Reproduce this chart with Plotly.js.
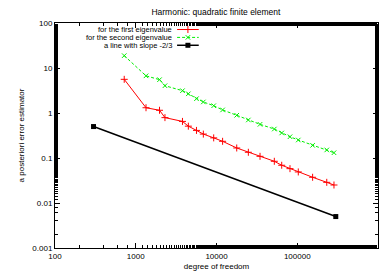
<!DOCTYPE html>
<html><head><meta charset="utf-8">
<script src="https://cdn.plot.ly/plotly-3.0.1.min.js"></script>
<style>html,body{margin:0;padding:0;background:#fff;}#chart{width:389px;height:273px;}</style>
</head><body><div id="chart"></div>
<script>
// ---- data ----
const dofFirst = [720, 1340, 1970, 2300, 3790, 4480, 5650, 6870, 9230, 11900, 17800, 24800, 34600, 52000, 64200, 81300, 103000, 155000, 232000, 285000];
const errFirst = [5.6, 1.31, 1.15, 0.79, 0.65, 0.51, 0.41, 0.34, 0.28, 0.235, 0.167, 0.134, 0.109, 0.0845, 0.069, 0.058, 0.049, 0.0373, 0.0288, 0.0251];
const dofSecond = [720, 1340, 1970, 2300, 3790, 4480, 5650, 6870, 9230, 11900, 17800, 24800, 34600, 52000, 64200, 81300, 103000, 155000, 232000, 285000];
const errSecond = [18.8, 6.7, 5.5, 4.04, 3.13, 2.67, 2.08, 1.76, 1.45, 1.17, 0.89, 0.70, 0.56, 0.44, 0.36, 0.297, 0.251, 0.191, 0.151, 0.131];
const dofSlope = [300, 300000];
const errSlope = [0.5, 0.005];
const seriesNames = ["for the first eigenvalue", "for the second eigenvalue", "a line with slope -2/3"];
const xTickVals = [100, 1000, 10000, 100000, 1000000];
const xTickText = ["100", "1000", "10000", "100000", "1e+06"];
const yTickVals = [0.001, 0.01, 0.1, 1, 10, 100];
const yTickText = ["0.001", "0.01", "0.1", "1", "10", "100"];

const FONT = "Liberation Sans, Arial, sans-serif";
const styles = [
  {line:{color:"#ff0000", width:1}, marker:{symbol:"cross-thin", size:5, line:{color:"#ff0000", width:1}, color:"#ff0000"}},
  {line:{color:"#00ee00", width:1, dash:"3px,2px"}, marker:{symbol:"x-thin", size:4.5, line:{color:"#00ee00", width:1}, color:"#00ee00"}},
  {line:{color:"#000000", width:1.5}, marker:{symbol:"square", size:5, color:"#000000"}}
];
const xs = [dofFirst, dofSecond, dofSlope];
const ys = [errFirst, errSecond, errSlope];

const traces = [];
for (let i = 0; i < 3; i++) {
  traces.push(Object.assign({x: xs[i], y: ys[i], type:"scatter", mode:"lines+markers", name: seriesNames[i], showlegend:false, hoverinfo:"skip"}, styles[i]));
}
// custom legend (text right, sample to the right) on an overlay axis in [0,1]
const legY = [0.971, 0.936, 0.901];
const legX0 = 0.378, legX1 = 0.445;
const annotations = [];
for (let i = 0; i < 3; i++) {
  traces.push({x:[legX0, legX1], y:[legY[i], legY[i]], xaxis:"x2", yaxis:"y2", type:"scatter", mode:"lines", showlegend:false, hoverinfo:"skip", line: styles[i].line});
  traces.push({x:[(legX0+legX1)/2], y:[legY[i]], xaxis:"x2", yaxis:"y2", type:"scatter", mode:"markers", showlegend:false, hoverinfo:"skip", marker: styles[i].marker});
  annotations.push({xref:"paper", yref:"paper", x:0.366, y:legY[i], xanchor:"right", yanchor:"middle", text:seriesNames[i], showarrow:false, borderpad:0, font:{family:FONT, size:7.5, color:"#000"}});
}

const axisCommon = {showgrid:false, zeroline:false, showline:true, linecolor:"#000", linewidth:1, mirror:"ticks", ticks:"inside", ticklen:5, tickcolor:"#000", tickwidth:1, tickfont:{family:FONT, size:8, color:"#000"}};
const layout = {
  width:389, height:273,
  margin:{l:55, r:11, t:23, b:25},
  paper_bgcolor:"#fff", plot_bgcolor:"#fff",
  title:{text:"Harmonic: quadratic finite element", font:{family:FONT, size:8.5, color:"#000"}, x:0.555, xanchor:"center", y:0.955, yanchor:"middle"},
  xaxis: Object.assign({}, axisCommon, {type:"log", range:[2, 6], tickmode:"array", tickvals:xTickVals, ticktext:xTickText,
    minor:{ticks:"inside", ticklen:3, tickcolor:"#000", showgrid:false},
    title:{text:"degree of freedom", font:{family:FONT, size:8, color:"#000"}, standoff:3}}),
  yaxis: Object.assign({}, axisCommon, {type:"log", range:[-3, 2], tickmode:"array", tickvals:yTickVals, ticktext:yTickText,
    minor:{ticks:"inside", ticklen:3, tickcolor:"#000", showgrid:false},
    title:{text:"a posteriori error estimator", font:{family:FONT, size:8, color:"#000"}, standoff:6}}),
  xaxis2:{overlaying:"x", range:[0,1], visible:false, anchor:"y2", fixedrange:true},
  yaxis2:{overlaying:"y", range:[0,1], visible:false, anchor:"x2", fixedrange:true},
  annotations: annotations,
  showlegend:false
};
Plotly.newPlot("chart", traces, layout, {displayModeBar:false, staticPlot:true});
</script></body></html>
